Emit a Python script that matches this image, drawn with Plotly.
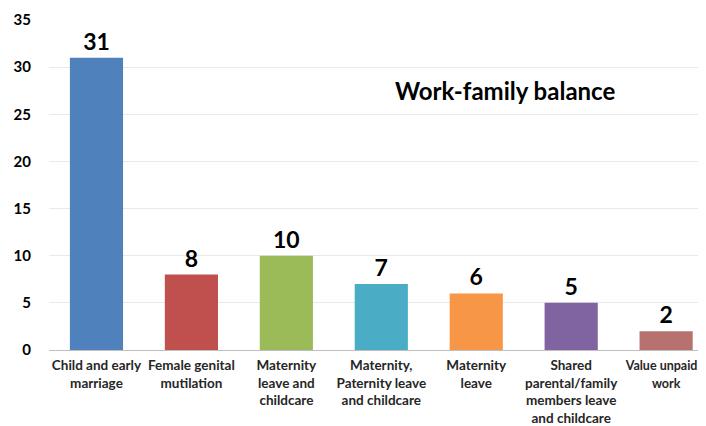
import plotly.graph_objects as go

categories = ["Child and early<br>marriage", "Female genital<br>mutilation", "Maternity<br>leave and<br>childcare",
              "Maternity,<br>Paternity leave<br>and childcare", "Maternity<br>leave",
              "Shared<br>parental/family<br>members leave<br>and childcare", "Value unpaid<br>work"]
values = [31, 8, 10, 7, 6, 5, 2]
colors = ["#4F81BD", "#C0504D", "#9BBB59", "#4BACC6", "#F79646", "#8064A2", "#B7726F"]
title_text = "Work-family balance"

# page body has an 8px default margin; compensate so the plot sits where the reference does
OFF = 8
W, H = 706 - OFF, 426 - OFF
L, T, B = 49 - OFF, 20 - OFF, 426 - 350
PW, PH = W - L, H - T - B

# last label sits at the right edge; render it a bit smaller and nudge it left so it fits
tick_text = list(categories)
first, second = tick_text[-1].split("<br>")
tick_text[-1] = ("<span style='font-size:12.5px'>" + first + "&nbsp;&nbsp;&nbsp;</span><br>"
                 "<span style='font-size:12.5px'>" + second + "</span>")

fig = go.Figure(go.Bar(
    x=list(range(len(categories))), y=values, marker=dict(color=colors, line=dict(width=0)),
    text=[str(v) for v in values], textposition="outside", cliponaxis=False,
    textfont=dict(family="Lato", size=23, color="#000000", weight="bold"), width=0.56,
))
fig.update_layout(
    width=W, height=H, margin=dict(l=L, r=0, t=T, b=B, autoexpand=False),
    plot_bgcolor="white", paper_bgcolor="white", showlegend=False,
    font=dict(family="Lato", color="#000000"),
    xaxis=dict(tickmode="array", tickvals=list(range(len(categories))), ticktext=tick_text,
               range=[-0.5, 6.42], showgrid=False, showline=True, linecolor="#BFBFBF", linewidth=1,
               tickfont=dict(family="Lato", size=13.5, color="#262626", weight="bold"), ticks="",
               automargin=False, ticklabeloverflow="allow", ticklabelstandoff=3),
    yaxis=dict(range=[0, 35], dtick=5, showgrid=True, gridcolor="#E9E9E9", zeroline=False,
               tickfont=dict(family="Lato", size=15, color="#000000", weight="bold"), ticks="",
               ticklabelstandoff=17, automargin=False),
    annotations=[dict(text="<b>" + title_text + "</b>",
                      x=(505 - 49) / PW, y=1 - (90 - 20) / PH, xref="paper", yref="paper",
                      xanchor="center", yanchor="middle", showarrow=False,
                      font=dict(family="Lato", size=24, color="#000000"))],
)
fig.write_html("out.html")
